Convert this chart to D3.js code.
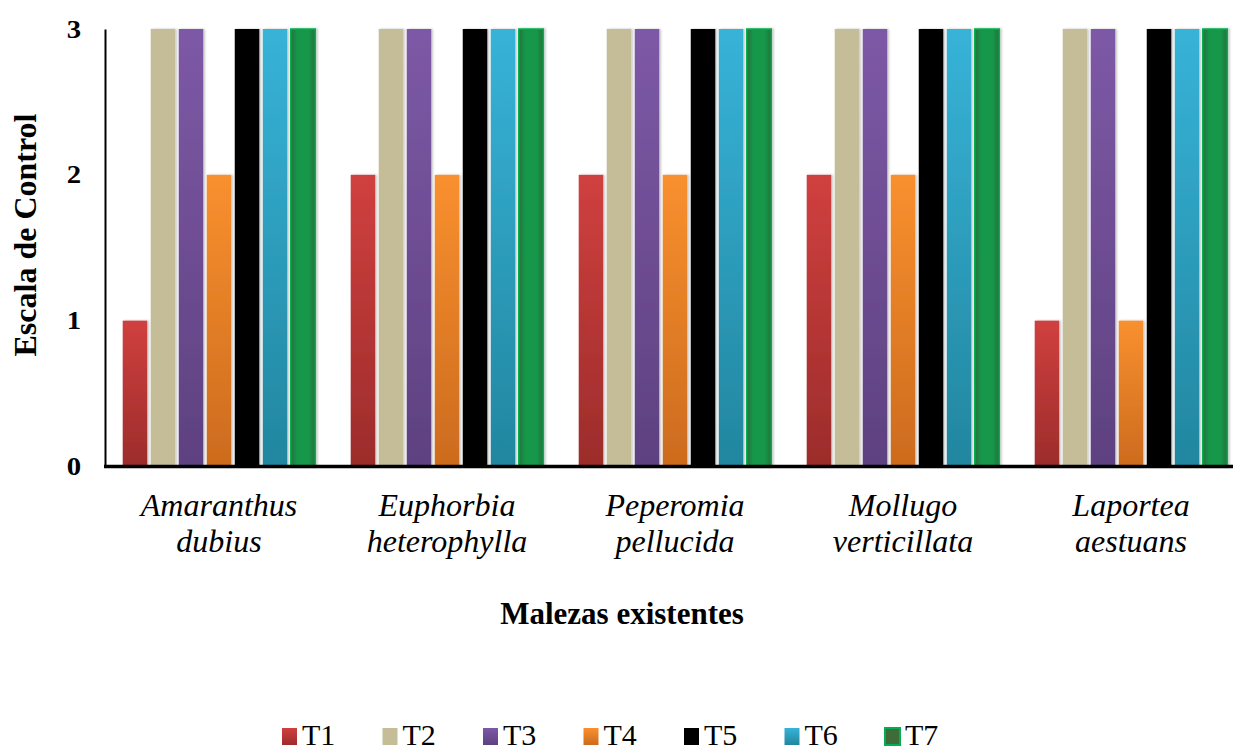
<!DOCTYPE html>
<html><head><meta charset="utf-8">
<script src="https://cdn.jsdelivr.net/npm/d3@7"></script>
<style>body{margin:0;background:#fff;} svg{display:block;font-family:"Liberation Serif","Times New Roman",serif;}</style>
</head><body>
<svg id="chart" width="1233" height="752"></svg>
<script>
const categories = [["Amaranthus","dubius"],["Euphorbia","heterophylla"],["Peperomia","pellucida"],["Mollugo","verticillata"],["Laportea","aestuans"]];
const seriesNames = ["T1","T2","T3","T4","T5","T6","T7"];
const T1 = [1,2,2,2,1];
const T2 = [3,3,3,3,3];
const T3 = [3,3,3,3,3];
const T4 = [2,2,2,2,1];
const T5 = [3,3,3,3,3];
const T6 = [3,3,3,3,3];
const T7 = [3,3,3,3,3];
const seriesValues = [T1,T2,T3,T4,T5,T6,T7];
const yTicks = [0,1,2,3];
const colorsTop = ["#D0403F","#C4BD97","#7D59A6","#F9902F","#000000","#37B3D8","#14974A"];
const colorsBottom = ["#9C2C2B","#C4BD97","#5E4180","#CC6B1E","#000000","#22869F","#14974A"];

const svg = d3.select("#chart");
const defs = svg.append("defs");
const f = defs.append("filter").attr("id","shadow").attr("x","-20%").attr("y","-5%").attr("width","150%").attr("height","110%");
f.append("feDropShadow").attr("dx",1.5).attr("dy",0).attr("stdDeviation",1.2).attr("flood-color","#000").attr("flood-opacity",0.25);
seriesNames.forEach((s,i)=>{
  const g = defs.append("linearGradient").attr("id","g"+i).attr("x1",0).attr("y1",0).attr("x2",0).attr("y2",1);
  g.append("stop").attr("offset","0%").attr("stop-color",colorsTop[i]);
  g.append("stop").attr("offset","100%").attr("stop-color",colorsBottom[i]);
});
const hg = defs.append("linearGradient").attr("id","g7h").attr("x1",0).attr("y1",0).attr("x2",1).attr("y2",0);
hg.append("stop").attr("offset","0%").attr("stop-color","#2B6E3A");
hg.append("stop").attr("offset","25%").attr("stop-color","#14974A");
hg.append("stop").attr("offset","75%").attr("stop-color","#14974A");
hg.append("stop").attr("offset","100%").attr("stop-color","#2B6E3A");

const x0 = d3.scaleBand().domain(d3.range(categories.length)).range([105,1245]).paddingInner(0.14).paddingOuter(0.07);
const x1 = d3.scaleBand().domain(d3.range(seriesNames.length)).range([0,x0.bandwidth()]).paddingInner(0.125).paddingOuter(0.0625);
const y = d3.scaleLinear().domain([0,3]).range([466.5,29]);

const groups = svg.append("g").selectAll("g").data(categories).join("g")
  .attr("transform",(d,i)=>`translate(${x0(i)},0)`);
groups.each(function(c,ci){
  const g = d3.select(this);
  seriesNames.forEach((s,si)=>{
    const v = seriesValues[si][ci];
    g.append("rect").attr("x",x1(si)).attr("y",y(v)).attr("width",x1.bandwidth()).attr("height",y(0)-y(v))
      .attr("fill", si===6 ? "url(#g7h)" : "url(#g"+si+")")
      .attr("stroke", si===6 ? "#00B050" : "none").attr("stroke-width", si===6 ? 1.5 : 0)
      .attr("filter","url(#shadow)");
  });
});

// axes
const yAxis = d3.axisLeft(y).tickValues(yTicks).tickSize(0).tickPadding(24).tickFormat(d3.format("d"));
const ya = svg.append("g").attr("transform","translate(105,0)").call(yAxis);
ya.select(".domain").attr("stroke","#000").attr("stroke-width",2);
ya.selectAll("text").attr("font-family","Liberation Serif").attr("font-weight","bold").attr("font-size",25).attr("fill","#000")
  .attr("x",0).attr("transform","translate(-24,0) scale(1.15,1)");

const xAxis = d3.axisBottom(x0).tickSize(0).tickFormat("");
const xa = svg.append("g").attr("transform","translate(0,466.5)").call(xAxis);
xa.select(".domain").attr("stroke","#000").attr("stroke-width",3.5).attr("d","M104,0H1245");

categories.forEach((c,i)=>{
  const cx = x0(i)+x0.bandwidth()/2;
  const t = svg.append("text").attr("text-anchor","middle")
    .attr("font-style","italic").attr("font-size",32).attr("fill","#000");
  t.append("tspan").attr("x",cx).attr("y",516).text(c[0]);
  t.append("tspan").attr("x",cx).attr("y",552).text(c[1]);
});

svg.append("text").attr("x",622).attr("y",624).attr("text-anchor","middle").attr("font-weight","bold").attr("font-size",31).text("Malezas existentes");
svg.append("text").attr("transform","translate(36,235) rotate(-90)").attr("text-anchor","middle").attr("font-weight","bold").attr("font-size",32).text("Escala de Control");

// legend
const leg = svg.append("g");
seriesNames.forEach((s,i)=>{
  const lx = 282 + i*100.5;
  leg.append("rect").attr("x",lx).attr("y",728).attr("width",15).attr("height",17)
    .attr("fill", i===6 ? "#3F6B3A" : "url(#g"+i+")").attr("stroke", i===6 ? "#00B050":"none").attr("stroke-width",2);
  leg.append("text").attr("x",lx+20).attr("y",745).attr("font-size",30).text(s);
});
</script>
</body></html>
